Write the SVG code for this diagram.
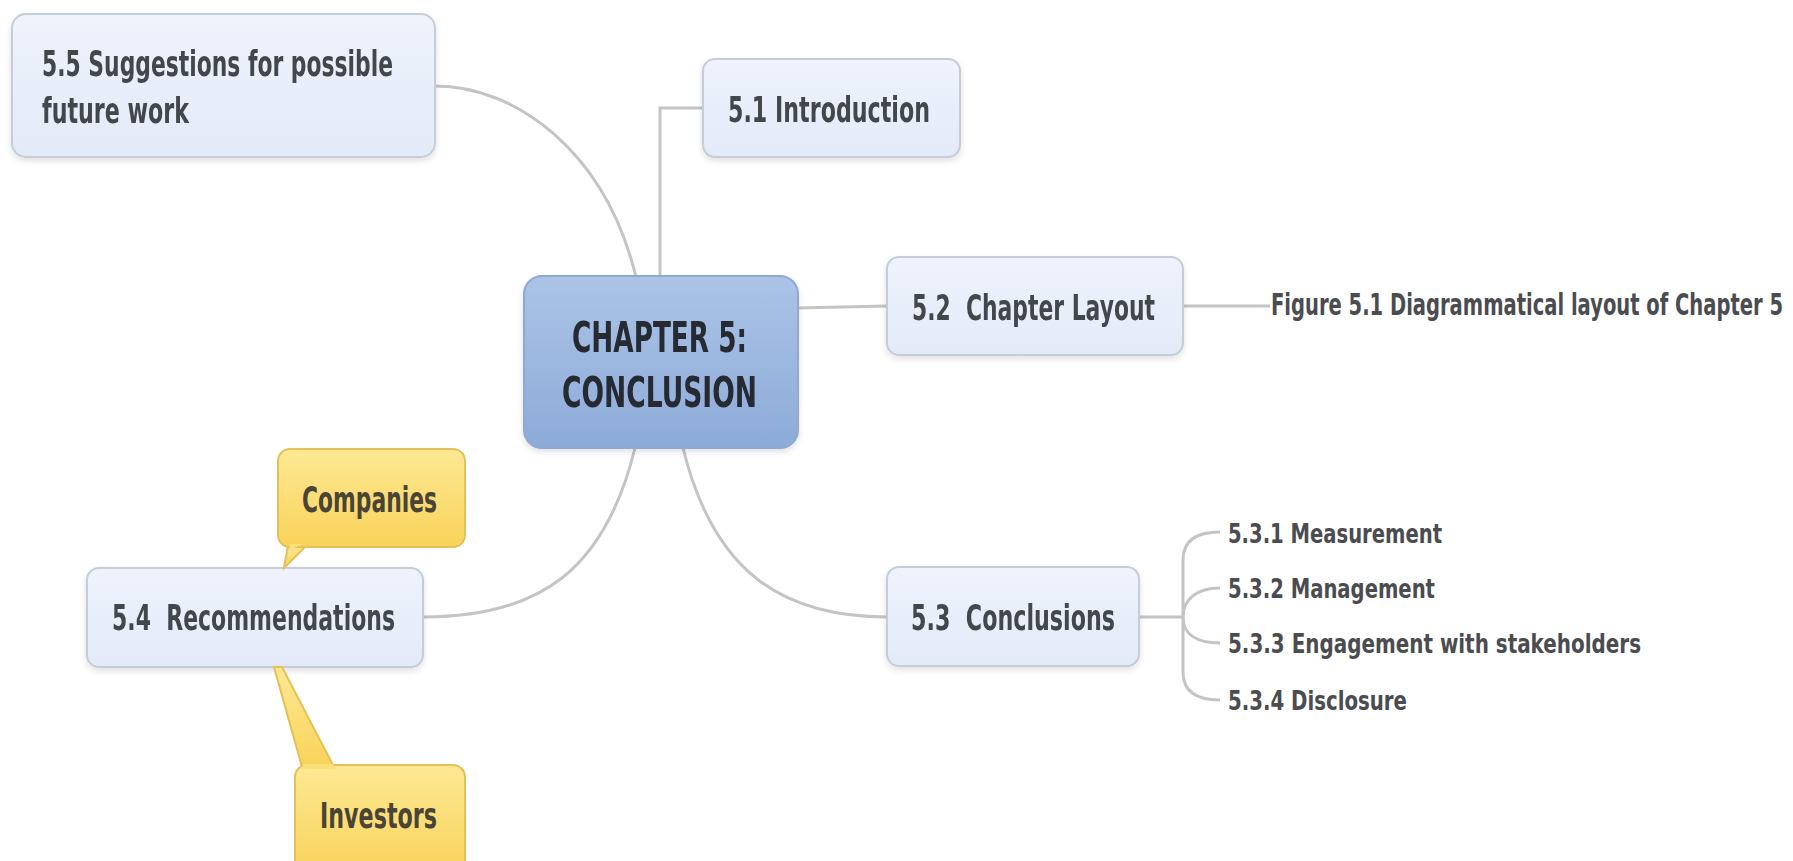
<svg xmlns="http://www.w3.org/2000/svg" width="1793" height="861" viewBox="0 0 1793 861">
<style>
.t{font-family:"DejaVu Sans","Liberation Sans",sans-serif;font-weight:bold;fill:#43464c;white-space:pre}
.n{font-size:36px}
.c{font-size:43px;fill:#262a33}
.s{font-size:26px;fill:#4a4c50}
.f{font-size:17.5px;fill:#4a4c50}
.box{fill:url(#gBox);stroke:#c6cdd8;stroke-width:2}
.ctr{fill:url(#gCtr);stroke:#8ea9d2;stroke-width:2}
.call{fill:url(#gCall);stroke:#e3c158;stroke-width:2}
.callf{fill:#fbe07a}
.con{fill:none;stroke:#c4c4c4;stroke-width:3}
</style>
<defs>
<linearGradient id="gBox" x1="0" y1="0" x2="0" y2="1"><stop offset="0" stop-color="#eef3fc"/><stop offset="1" stop-color="#e3eaf7"/></linearGradient>
<linearGradient id="gCtr" x1="0" y1="0" x2="0" y2="1"><stop offset="0" stop-color="#abc3e7"/><stop offset="1" stop-color="#8dabd8"/></linearGradient>
<linearGradient id="gCall" x1="0" y1="0" x2="0" y2="1"><stop offset="0" stop-color="#fde893"/><stop offset="1" stop-color="#f9d35a"/></linearGradient>
<filter id="sh" x="-10%" y="-10%" width="120%" height="130%"><feDropShadow dx="0" dy="3" stdDeviation="3" flood-color="#000" flood-opacity="0.12"/></filter>
</defs>
<rect width="1793" height="861" fill="#ffffff"/>
<g id="connectors">
<path class="con" d="M435,86 C515,86 605,150 636,277"/>
<path class="con" d="M660,277 V108 H703"/>
<path class="con" d="M797,308 L887,306"/>
<path class="con" d="M683,448 C713,570 780,617 887,617"/>
<path class="con" d="M635,448 C605,570 540,617 423,617"/>
<path class="con" d="M1183,306 H1270"/>
<path class="con" d="M1139,617 H1183"/>
<path class="con" d="M1183,617 V560 C1183,541 1196,532 1220,532"/>
<path class="con" d="M1183,617 C1183,600 1196,588 1220,588"/>
<path class="con" d="M1183,617 C1183,634 1196,643 1220,643"/>
<path class="con" d="M1183,617 V672 C1183,691 1196,700 1220,700"/>
</g>
<g id="n55" filter="url(#sh)">
<rect class="box" x="12" y="14" width="423" height="143" rx="14"/>
<text class="t n" x="42" y="76" textLength="351" lengthAdjust="spacingAndGlyphs">5.5 Suggestions for possible</text>
<text class="t n" x="42" y="123" textLength="147" lengthAdjust="spacingAndGlyphs">future work</text>
</g>
<g id="n51" filter="url(#sh)">
<rect class="box" x="703" y="59" width="257" height="98" rx="12"/>
<text class="t n" x="728" y="122" textLength="202" lengthAdjust="spacingAndGlyphs">5.1 Introduction</text>
</g>
<g id="center" filter="url(#sh)">
<rect class="ctr" x="524" y="276" width="274" height="172" rx="18"/>
<text class="t c" x="572" y="352" textLength="175" lengthAdjust="spacingAndGlyphs">CHAPTER 5:</text>
<text class="t c" x="562" y="407" textLength="195" lengthAdjust="spacingAndGlyphs">CONCLUSION</text>
</g>
<g id="n52" filter="url(#sh)">
<rect class="box" x="887" y="257" width="296" height="98" rx="12"/>
<text class="t n" x="912" y="320" textLength="243" lengthAdjust="spacingAndGlyphs" xml:space="preserve">5.2  Chapter Layout</text>
</g>
<g id="fig">
<text class="t f" transform="translate(1271,315) scale(1,1.7)" x="0" y="0" textLength="512" lengthAdjust="spacingAndGlyphs">Figure 5.1 Diagrammatical layout of Chapter 5</text>
</g>
<g id="n53" filter="url(#sh)">
<rect class="box" x="887" y="567" width="252" height="99" rx="12"/>
<text class="t n" x="911" y="630" textLength="204" lengthAdjust="spacingAndGlyphs" xml:space="preserve">5.3  Conclusions</text>
</g>
<g id="n531"><text class="t s" x="1228" y="543" textLength="214" lengthAdjust="spacingAndGlyphs">5.3.1 Measurement</text></g>
<g id="n532"><text class="t s" x="1228" y="598" textLength="207" lengthAdjust="spacingAndGlyphs">5.3.2 Management</text></g>
<g id="n533"><text class="t s" x="1228" y="653" textLength="413" lengthAdjust="spacingAndGlyphs">5.3.3 Engagement with stakeholders</text></g>
<g id="n534"><text class="t s" x="1228" y="710" textLength="179" lengthAdjust="spacingAndGlyphs">5.3.4 Disclosure</text></g>
<g id="n54" filter="url(#sh)">
<rect class="box" x="87" y="568" width="336" height="99" rx="12"/>
<text class="t n" x="112" y="630" textLength="283" lengthAdjust="spacingAndGlyphs" xml:space="preserve">5.4  Recommendations</text>
</g>
<g id="companies">
<polygon class="call" points="284,568 288,545 307,545"/>
<rect class="call" x="278" y="449" width="187" height="98" rx="12"/>
<polygon class="callf" points="289,544 290,549 305,544"/>
<text class="t n" x="302" y="512" textLength="135" lengthAdjust="spacingAndGlyphs" style="fill:#4a4436">Companies</text>
</g>
<g id="investors">
<polygon class="call" points="274,667 282,667 334,767 302,767"/>
<rect class="call" x="295" y="765" width="170" height="110" rx="12"/>
<polygon class="callf" points="303,764 333,764 335,769 302,769"/>
<text class="t n" x="320" y="828" textLength="117" lengthAdjust="spacingAndGlyphs" style="fill:#4a4436">Investors</text>
</g>
</svg>
